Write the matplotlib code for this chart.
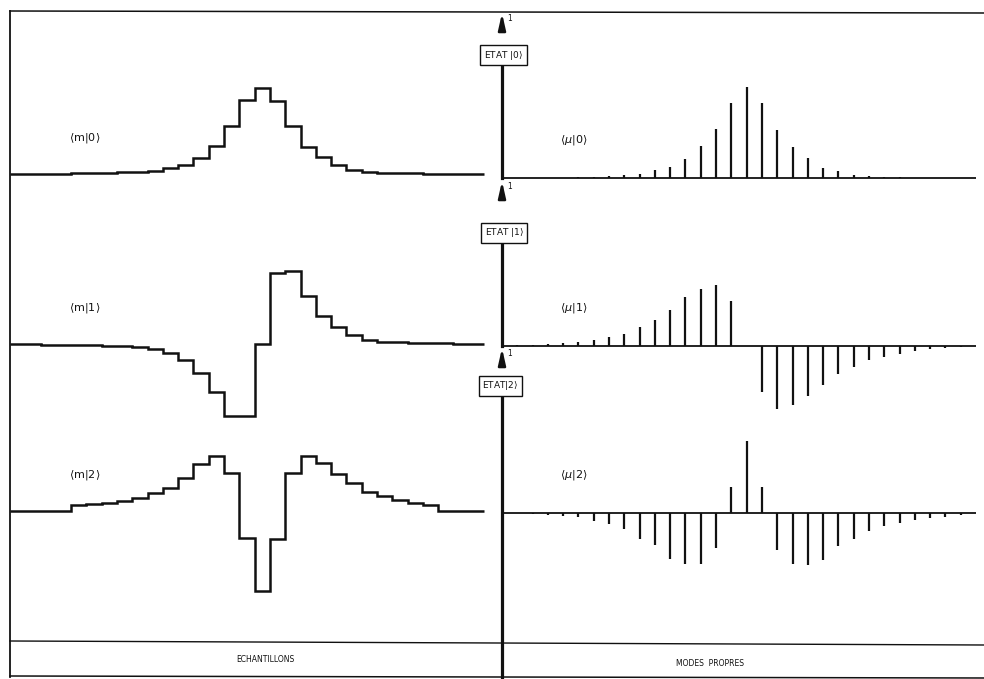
"""Etats propres : échantillons <m|k> et modes propres <mu|k> (k = 0, 1, 2).

Produces:
  out.png
"""

from __future__ import annotations

import matplotlib

matplotlib.use("Agg")
import matplotlib.pyplot as plt
import numpy as np

W, H = 984, 679
INK = "#111111"
BG = "#FFFFFF"

# amplitudes, unité = flèche « 1 » de l'axe central
SAMPLES = np.arange(31)
EDGES = np.arange(32)

M0 = [0, 0, .003, .003, .006, .006, .009, .012, .012, .018, .036, .055, .097, .170, .291,
      .448, .521, .442, .291, .164, .103, .055, .024, .012, .009, .006, .006, .003, .003, 0, 0]
M1 = [-.003, -.003, -.006, -.006, -.009, -.009, -.012, -.015, -.021, -.030, -.055, -.097,
      -.176, -.291, -.436, -.436, 0, .430, .442, .291, .170, .103, .055, .024, .015, .012,
      .009, .006, .006, .003, .003]
M2 = [0, 0, 0, 0, .036, .042, .048, .061, .079, .109, .139, .200, .285, .333, .230, -.164,
      -.485, -.170, .230, .333, .291, .224, .170, .115, .091, .067, .048, .036, 0, 0, 0]

MU0 = [0, 0, 0, .003, .003, .006, .009, .012, .018, .024, .048, .067, .115, .194, .297,
       .455, .552, .455, .291, .188, .121, .061, .042, .021, .012, .006, .006, .003, .003, 0, 0]
MU1 = [.003, .006, .009, .012, .018, .024, .036, .055, .073, .115, .158, .218, .297, .345,
       .370, .273, 0, -.279, -.382, -.358, -.303, -.236, -.170, -.127, -.085, -.067, -.048,
       -.030, -.018, -.012, -.006]
MU2 = [0, 0, -.006, -.012, -.018, -.024, -.048, -.067, -.097, -.158, -.194, -.279, -.309,
       -.309, -.212, .158, .436, .158, -.224, -.309, -.315, -.285, -.200, -.158, -.109,
       -.079, -.061, -.042, -.030, -.024, -.012]

LEFT_SERIES = [M0, M1, M2]
RIGHT_SERIES = [MU0, MU1, MU2]
LEFT_LABELS = [r"$\langle\mathrm{m}|0\rangle$", r"$\langle\mathrm{m}|1\rangle$",
               r"$\langle\mathrm{m}|2\rangle$"]
RIGHT_LABELS = [r"$\langle\mu|0\rangle$", r"$\langle\mu|1\rangle$", r"$\langle\mu|2\rangle$"]
STATE_LABELS = [r"ETAT $|0\rangle$", r"ETAT $|1\rangle$", r"ETAT$|2\rangle$"]
BOTTOM_LABELS = ["ECHANTILLONS", "MODES  PROPRES"]

# mise en page (pixels)
UNIT = 165
LEFT_X = (10, 484)
RIGHT_X = (502, 976)
LEFT_BASE = [174, 344, 511]
RIGHT_BASE = [178, 346, 513]
BOX_Y = [0.745, 0.685, 0.77]
BOX_X = [0.1, 0.15, -0.1]
BOTTOM_PX = 677


def _row_axes(fig, x0: float, x1: float, base: float, up: float = 175, down: float = 100):
    ax = fig.add_axes([x0 / W, 1 - (base + down) / H, (x1 - x0) / W, (up + down) / H])
    ax.set_xlim(0, 31)
    ax.set_ylim(-down / UNIT, up / UNIT)
    ax.axis("off")
    ax.patch.set_alpha(0)
    return ax


def build_figure(path: str = "out.png") -> None:
    plt.rcParams["mathtext.fontset"] = "dejavusans"
    fig = plt.figure(figsize=(W / 100, H / 100), dpi=100, facecolor=BG)

    # cadre
    frame = fig.add_axes([0, 0, 1, 1])
    frame.set_xlim(0, W)
    frame.set_ylim(H, 0)
    frame.axis("off")
    frame.patch.set_alpha(0)
    frame.plot([10, 984], [11, 13], color=INK, lw=1.1)
    frame.plot([10, 10], [11, 677], color=INK, lw=1.3)
    frame.plot([10, 984], [641, 645], color=INK, lw=1.0)
    frame.plot([10, 984], [676, 678], color=INK, lw=1.1)
    frame.text(265, 660, BOTTOM_LABELS[0], ha="center", va="center", fontsize=5.5, color=INK)
    frame.text(710, 663, BOTTOM_LABELS[1], ha="center", va="center", fontsize=5.5, color=INK)

    # échantillons
    for vals, base, label in zip(LEFT_SERIES, LEFT_BASE, LEFT_LABELS):
        ax = _row_axes(fig, *LEFT_X, base)
        ax.stairs(vals, EDGES, baseline=None, color=INK, lw=1.8, clip_on=False)
        ax.text(4.9, 0.22, label, ha="center", va="center", fontsize=8, color=INK)

    # modes propres
    for k, (vals, base, label) in enumerate(zip(RIGHT_SERIES, RIGHT_BASE, RIGHT_LABELS)):
        ax = _row_axes(fig, *RIGHT_X, base)
        ax.hlines(0, 0, 31, color=INK, lw=1.3, clip_on=False)
        ax.vlines(SAMPLES, 0, vals, color=INK, lw=1.6, clip_on=False)
        ax.text(4.7, 0.23, label, ha="center", va="center", fontsize=8, color=INK)

        low = 0 if k < 2 else -(BOTTOM_PX - base) / UNIT
        ax.plot([0, 0], [low, BOX_Y[k]], color=INK, lw=2.3, clip_on=False, zorder=2)
        ax.annotate(
            "",
            xy=(0, 1.0),
            xytext=(0, 0.905),
            arrowprops=dict(
                arrowstyle="-|>,head_length=0.8,head_width=0.18",
                color=INK,
                lw=1.8,
                mutation_scale=12,
                shrinkA=0,
                shrinkB=0,
            ),
            annotation_clip=False,
        )
        ax.text(0.35, 0.965, "1", fontsize=5.5, color=INK, ha="left", va="center")
        ax.text(
            BOX_X[k],
            BOX_Y[k],
            STATE_LABELS[k],
            ha="center",
            va="center",
            fontsize=6.5,
            color=INK,
            zorder=4,
            bbox=dict(boxstyle="square,pad=0.4", facecolor=BG, edgecolor=INK, lw=1.0),
        )

    fig.savefig(path, dpi=100, facecolor=BG)
    plt.close(fig)


def main() -> None:
    build_figure("out.png")


if __name__ == "__main__":
    main()
